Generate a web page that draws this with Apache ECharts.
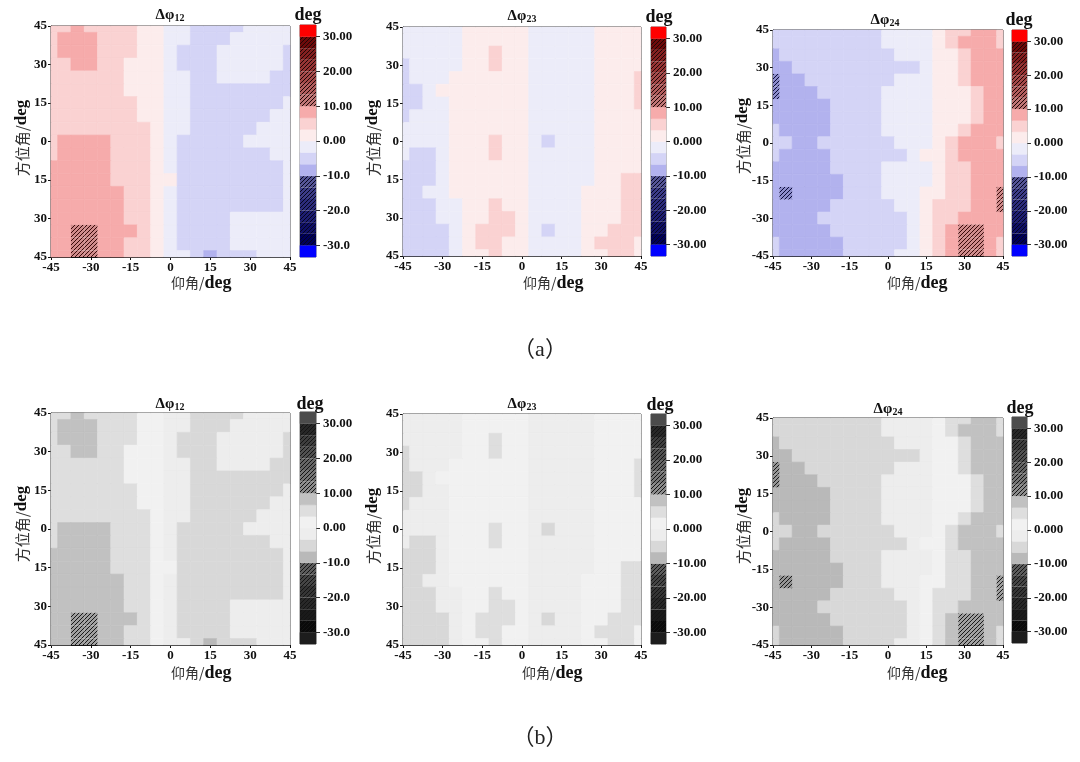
<!DOCTYPE html>
<html><head><meta charset="utf-8">
<script src="https://cdn.jsdelivr.net/npm/echarts@6/dist/echarts.min.js"></script>
<style>html,body{margin:0;padding:0;background:#fff}#c{width:1080px;height:762px}</style>
</head><body><div id="c"></div><script>
// ---- data ----
const xCenters = [-45,-40,-35,-30,-25,-20,-15,-10,-5,0,5,10,15,20,25,30,35,40,45];
const yCenters = [45,40,35,30,25,20,15,10,5,0,-5,-10,-15,-20,-25,-30,-35,-40,-45];
const xTickLabels = ['-45','-30','-15','0','15','30','45'];
const yTickValues = [-45,-30,-15,0,15,30,45];
const yTickLabelsUnsigned = ['45','30','15','0','15','30','45'];
const yTickLabelsSigned = ['-45','-30','-15','0','15','30','45'];
const cbTickValues = [-30,-20,-10,0,10,20,30];
const cbLabelsShort = ['-30.0','-20.0','-10.0','0.00','10.00','20.00','30.00'];
const cbLabelsLong = ['-30.00','-20.00','-10.00','0.000','10.00','20.00','30.00'];
const cbBounds = [-33.33,-30,-26.67,-23.33,-20,-16.67,-13.33,-10,-6.67,-3.33,0,3.33,6.67,10,13.33,16.67,20,23.33,26.67,30,33.33];

// rows from top (45) to bottom (-45), columns -45..45
const dphi12 = [
[5,5,8,5,5,5,5,2,2,-2,-2,-5,-5,-5,-5,-2,-2,-2,-2],
[5,8,8,8,5,5,5,2,2,-2,-2,-5,-5,-5,-2,-2,-2,-2,-2],
[5,8,8,8,5,5,5,2,2,-2,-5,-5,-5,-2,-2,-2,-2,-2,-5],
[5,5,8,8,5,5,2,2,2,-2,-5,-5,-5,-2,-2,-2,-2,-2,-5],
[5,5,5,5,5,5,2,2,2,-2,-2,-5,-5,-2,-2,-2,-2,-5,-5],
[5,5,5,5,5,5,2,2,2,-2,-2,-5,-5,-5,-5,-5,-5,-5,-5],
[5,5,5,5,5,5,5,2,2,-2,-2,-5,-5,-5,-5,-5,-5,-5,-2],
[5,5,5,5,5,5,5,2,2,-2,-2,-5,-5,-5,-5,-5,-5,-2,-2],
[5,5,5,5,5,5,5,5,2,-2,-2,-5,-5,-5,-5,-5,-2,-2,-2],
[5,8,8,8,8,5,5,5,2,-2,-5,-5,-5,-5,-5,-2,-2,-2,-2],
[5,8,8,8,8,5,5,5,2,-2,-5,-5,-5,-5,-5,-5,-5,-2,-2],
[8,8,8,8,8,5,5,5,2,-2,-5,-5,-5,-5,-5,-5,-5,-5,-2],
[8,8,8,8,8,5,5,5,2,2,-5,-5,-5,-5,-5,-5,-5,-5,-2],
[8,8,8,8,8,8,5,5,2,-2,-5,-5,-5,-5,-5,-5,-5,-5,-2],
[8,8,8,8,8,8,5,5,2,-2,-5,-5,-5,-5,-5,-5,-5,-5,-2],
[8,8,8,8,8,8,5,5,2,-2,-5,-5,-5,-5,-2,-2,-2,-2,-2],
[8,8,15,15,8,8,8,5,2,-2,-5,-5,-5,-5,-2,-2,-2,-2,-2],
[8,8,15,15,8,8,5,5,2,-2,-5,-5,-5,-5,-2,-2,-2,-2,-2],
[8,8,15,15,8,8,5,5,2,-2,-2,-5,-8,-5,-5,-5,-2,-2,-2]
];
const dphi23 = [
[-2,-2,-2,-2,-2,2,2,2,2,2,-2,-2,-2,-2,-2,2,2,2,2],
[-2,-2,-2,-2,-2,2,2,2,2,2,-2,-2,-2,-2,-2,2,2,2,2],
[-2,-2,-2,-2,-2,2,2,5,2,2,-2,-2,-2,-2,-2,2,2,2,2],
[-5,-2,-2,-2,-2,2,2,5,2,2,-2,-2,-2,-2,-2,2,2,2,2],
[-5,-2,-2,-2,2,2,2,2,2,2,-2,-2,-2,-2,-2,2,2,2,5],
[-5,-5,-2,2,2,2,2,2,2,2,-2,-2,-2,-2,-2,2,2,2,5],
[-5,-5,-2,-2,2,2,2,2,2,2,-2,-2,-2,-2,-2,2,2,2,5],
[-5,-2,-2,-2,2,2,2,2,2,2,-2,-2,-2,-2,-2,2,2,2,2],
[-2,-2,-2,-2,2,2,2,2,2,2,-2,-2,-2,-2,-2,2,2,2,2],
[-2,-2,-2,-2,2,2,2,5,2,2,-2,-5,-2,-2,-2,2,2,2,2],
[-2,-5,-5,-2,2,2,2,5,2,2,-2,-2,-2,-2,-2,2,2,2,2],
[-5,-5,-5,-2,2,2,2,2,2,2,-2,-2,-2,-2,-2,2,2,2,2],
[-5,-5,-5,-2,2,2,2,2,2,2,-2,-2,-2,-2,-2,2,2,5,5],
[-5,-5,-2,-2,2,2,2,2,2,2,-2,-2,-2,-2,2,2,2,5,5],
[-5,-5,-5,-2,-2,2,2,5,2,2,-2,-2,-2,-2,2,2,2,5,5],
[-5,-5,-5,-2,-2,2,2,5,5,2,-2,-2,-2,-2,2,2,2,5,5],
[-5,-5,-5,-5,-2,2,5,5,5,2,-2,-5,-2,-2,2,2,5,5,5],
[-5,-5,-5,-5,-2,2,5,5,2,2,-2,-2,-2,-2,2,5,5,5,2],
[-5,-5,-5,-5,-2,2,2,5,2,2,-2,-2,-2,-2,2,2,5,5,2]
];
const dphi24 = [
[-5,-5,-5,-5,-5,-5,-5,-5,-5,-2,-2,-2,-2,2,5,5,8,8,5],
[-5,-5,-5,-5,-5,-5,-5,-5,-5,-2,-2,-2,-2,2,5,8,8,8,5],
[-8,-5,-5,-5,-5,-5,-5,-5,-5,-5,-2,-2,-2,2,2,5,8,8,8],
[-8,-8,-5,-5,-5,-5,-5,-5,-5,-5,-5,-5,-2,2,2,5,8,8,8],
[-15,-8,-8,-5,-5,-5,-5,-5,-5,-5,-2,-2,-2,2,2,5,8,8,8],
[-15,-8,-8,-8,-5,-5,-5,-5,-5,-2,-2,-2,-2,2,2,2,5,8,8],
[-8,-8,-8,-8,-8,-5,-5,-5,-5,-2,-2,-2,-2,2,2,2,5,8,8],
[-8,-8,-8,-8,-8,-5,-5,-5,-5,-2,-2,-2,-2,2,2,2,5,8,8],
[-5,-8,-8,-8,-8,-5,-5,-5,-5,-2,-2,-2,-2,2,2,5,8,8,8],
[-5,-5,-8,-8,-5,-5,-5,-5,-5,-5,-2,-2,-2,2,5,8,8,8,5],
[-5,-8,-8,-8,-8,-5,-5,-5,-5,-5,-5,-2,2,2,5,8,8,8,8],
[-8,-8,-8,-8,-8,-5,-5,-5,-5,-2,-2,-2,-2,2,5,5,8,8,8],
[-8,-8,-8,-8,-8,-8,-5,-5,-5,-2,-2,-2,-2,2,5,5,8,8,8],
[-8,-15,-8,-8,-8,-8,-5,-5,-5,-2,-2,-2,2,2,5,5,8,8,15],
[-8,-8,-8,-8,-8,-5,-5,-5,-5,-5,-2,-2,2,5,5,5,8,8,15],
[-8,-8,-8,-8,-5,-5,-5,-5,-5,-5,-5,-2,2,5,5,8,8,8,8],
[-8,-8,-8,-8,-8,-5,-5,-5,-5,-5,-5,-2,2,5,8,15,15,8,8],
[-5,-8,-8,-8,-8,-8,-5,-5,-5,-5,-5,-2,2,5,8,15,15,8,5],
[-5,-8,-8,-8,-8,-8,-5,-5,-5,-5,-2,-2,2,5,8,15,15,8,5]
];

// ---- styles ----
const segStyles = [
 {c:'#0000ff'},{c:'#00005a',h:1},{c:'#101066',h:1},{c:'#1e1e72',h:1},{c:'#2c2c7c',h:1},{c:'#3c3c88',h:1},{c:'#555596',h:1},
 {c:'#b2b2ee'},{c:'#d4d4f6'},{c:'#ececf9'},{c:'#fcecec'},{c:'#fad2d2'},{c:'#f6abab'},
 {c:'#c07676',h:1},{c:'#b25e5e',h:1},{c:'#a54a4a',h:1},{c:'#963434',h:1},{c:'#842020',h:1},{c:'#6e0a0a',h:1},{c:'#ff0000'}
];
const cellHatchRed = '#d08c8c', cellHatchBlue = '#8e8ecc';

function lum(hex){
  const n=parseInt(hex.slice(1),16);const r=(n>>16)&255,g=(n>>8)&255,b=n&255;
  const l=Math.round(0.299*r+0.587*g+0.114*b);const s=l.toString(16).padStart(2,'0');return '#'+s+s+s;
}
const patCache={};
function hatch(bg,line){
  const k=bg+line; if(patCache[k]) return patCache[k];
  const s=4, cv=document.createElement('canvas'); cv.width=s; cv.height=s;
  const ctx=cv.getContext('2d'); ctx.fillStyle=bg; ctx.fillRect(0,0,s,s);
  ctx.strokeStyle=line; ctx.lineWidth=1; ctx.beginPath();
  ctx.moveTo(-1,s+1);ctx.lineTo(s+1,-1);
  ctx.moveTo(-1-s,s+1);ctx.lineTo(1,-1);
  ctx.moveTo(s-1,2*s+1);ctx.lineTo(2*s+1,s-1);
  ctx.stroke();
  return (patCache[k]={image:cv,repeat:'repeat'});
}
function segIndex(v){
  for(let i=0;i<cbBounds.length-1;i++){ if(v>=cbBounds[i]&&v<cbBounds[i+1]) return i; }
  return v<0?0:cbBounds.length-2;
}
function cellStyle(v,gray){
  const seg=segStyles[segIndex(v)];
  const c=seg.h?(v>0?cellHatchRed:cellHatchBlue):seg.c;
  if(gray){ const g=lum(c); return seg.h?{fill:hatch(g,'#1a1a1a'),lineWidth:0}:{fill:g,stroke:g,lineWidth:0.6}; }
  return seg.h?{fill:hatch(c, v>0?'#3a0a0a':'#0c0c3a'),lineWidth:0}:{fill:c,stroke:c,lineWidth:0.6};
}
function cbStyle(i,gray){
  const seg=segStyles[i];
  if(gray){ const g=lum(seg.c); return seg.h?{fill:hatch(g,'#141414'),lineWidth:0}:{fill:g,stroke:g,lineWidth:0.5}; }
  return seg.h?{fill:hatch(seg.c, i<10?'#05051e':'#1e0505'),lineWidth:0}:{fill:seg.c,stroke:seg.c,lineWidth:0.5};
}

const panels = [
 {d:dphi12, sub:'12', gray:false, g:[51,26,239,231], cb:[300,25,16,232], yl:yTickLabelsUnsigned, cbl:cbLabelsShort, t:[170,15], deg:[308,15], yn:[22,138], xn:[171,283]},
 {d:dphi23, sub:'23', gray:false, g:[403,27,238,229], cb:[651,27,15,229], yl:yTickLabelsUnsigned, cbl:cbLabelsLong, t:[522,16], deg:[659,17], yn:[373,138], xn:[523,283]},
 {d:dphi24, sub:'24', gray:false, g:[773,30,230,226], cb:[1012,30,15,226], yl:yTickLabelsSigned, cbl:cbLabelsLong, t:[885,20], deg:[1019,20], yn:[743,136], xn:[887,283]},
 {d:dphi12, sub:'12', gray:true, g:[51,413,239,232], cb:[300,412,16,232], yl:yTickLabelsUnsigned, cbl:cbLabelsShort, t:[170,404], deg:[310,404], yn:[22,524], xn:[171,673]},
 {d:dphi23, sub:'23', gray:true, g:[403,414,238,231], cb:[651,414,15,230], yl:yTickLabelsUnsigned, cbl:cbLabelsLong, t:[522,404], deg:[660,405], yn:[373,526], xn:[522,673]},
 {d:dphi24, sub:'24', gray:true, g:[773,418,230,227], cb:[1012,417,15,226], yl:yTickLabelsSigned, cbl:cbLabelsLong, t:[888,409], deg:[1020,408], yn:[743,526], xn:[887,673]}
];

const serif='Liberation Serif';
const tickFont={fontFamily:serif,fontWeight:'bold',fontSize:13,color:'#111'};
const cjk='Noto Sans CJK SC';

const grid=[],xAxis=[],yAxis=[],series=[],graphic=[];
panels.forEach((p,k)=>{
  const gi=2*k, ci=2*k+1;
  grid.push({left:p.g[0],top:p.g[1],width:p.g[2],height:p.g[3],show:true,borderColor:'#111',borderWidth:1,containLabel:false});
  grid.push({left:p.cb[0],top:p.cb[1],width:p.cb[2],height:p.cb[3],show:true,borderColor:'#222',borderWidth:0.6});
  xAxis.push({gridIndex:gi,type:'value',min:-45,max:45,interval:15,
    axisLine:{show:true,onZero:false,lineStyle:{color:'#111'}},axisTick:{show:true,length:3,lineStyle:{color:'#111'}},
    splitLine:{show:false},
    axisLabel:{...tickFont,margin:4,formatter:(v)=>xTickLabels[yTickValues.indexOf(v)]}});
  yAxis.push({gridIndex:gi,type:'value',min:-45,max:45,interval:15,
    axisLine:{show:true,onZero:false,lineStyle:{color:'#111'}},axisTick:{show:true,length:3,lineStyle:{color:'#111'}},
    splitLine:{show:false},
    axisLabel:{...tickFont,margin:4,formatter:(v)=>p.yl[yTickValues.indexOf(v)]}});
  xAxis.push({gridIndex:ci,type:'value',min:0,max:1,show:false,axisLine:{onZero:false}});
  yAxis.push({gridIndex:ci,type:'value',min:cbBounds[0],max:cbBounds[cbBounds.length-1],position:'right',
    axisLine:{show:false,onZero:false},splitLine:{show:false},
    axisTick:{show:true,length:4,customValues:cbTickValues,lineStyle:{color:'#333'}},
    axisLabel:{...tickFont,margin:7,customValues:cbTickValues,formatter:(v)=>p.cbl[cbTickValues.indexOf(Math.round(v))]}});
  const cells=[];
  p.d.forEach((row,r)=>row.forEach((v,c)=>cells.push([xCenters[c],yCenters[r],v])));
  series.push({type:'custom',xAxisIndex:gi,yAxisIndex:gi,data:cells,encode:{x:0,y:1},silent:true,
    renderItem:(params,api)=>{
      const x=api.value(0),y=api.value(1),v=api.value(2);
      const p0=api.coord([x-2.5,y+2.5]),p1=api.coord([x+2.5,y-2.5]);
      const cs=params.coordSys;
      const shape=echarts.graphic.clipRectByRect({x:p0[0],y:p0[1],width:p1[0]-p0[0],height:p1[1]-p0[1]},{x:cs.x,y:cs.y,width:cs.width,height:cs.height});
      if(!shape) return null;
      return {type:'rect',shape:shape,style:cellStyle(v,p.gray),z2:Math.abs(v)>10?2:1};
    }});
  const segs=[];
  for(let i=0;i<cbBounds.length-1;i++) segs.push([0,cbBounds[i],cbBounds[i+1],i]);
  series.push({type:'custom',xAxisIndex:ci,yAxisIndex:ci,data:segs,encode:{x:0,y:[1,2]},silent:true,
    renderItem:(params,api)=>{
      const a=api.coord([0,api.value(2)]),b=api.coord([1,api.value(1)]);
      return {type:'rect',shape:{x:a[0],y:a[1],width:b[0]-a[0],height:b[1]-a[1]},style:cbStyle(api.value(3),p.gray)};
    }});
  graphic.push({type:'text',x:p.t[0],y:p.t[1],style:{text:'{a|Δφ}{s|'+p.sub+'}',
    rich:{a:{fontFamily:serif,fontWeight:'bold',fontSize:15,lineHeight:16,verticalAlign:'bottom',fill:'#111'},
          s:{fontFamily:serif,fontWeight:'bold',fontSize:10,lineHeight:10,padding:[6,0,0,0],verticalAlign:'bottom',fill:'#111'}},
    align:'center',verticalAlign:'middle'}});
  graphic.push({type:'text',x:p.deg[0],y:p.deg[1],style:{text:'deg',fontFamily:serif,fontWeight:'bold',fontSize:18,fill:'#111',align:'center',verticalAlign:'middle'}});
  graphic.push({type:'text',x:p.xn[0],y:p.xn[1],style:{text:'{n|仰角/}{d|deg}',
    rich:{n:{fontFamily:cjk,fontSize:14,fill:'#333'},d:{fontFamily:serif,fontWeight:'bold',fontSize:18,fill:'#111'}},
    align:'left',verticalAlign:'middle'}});
  graphic.push({type:'text',x:p.yn[0],y:p.yn[1],rotation:Math.PI/2,style:{text:'{n|方位角/}{d|deg}',
    rich:{n:{fontFamily:cjk,fontSize:15,fill:'#333'},d:{fontFamily:serif,fontWeight:'bold',fontSize:17,fill:'#111'}},
    align:'center',verticalAlign:'middle'}});
});
graphic.push({type:'text',x:540,y:350,style:{text:'（a）',fontFamily:serif+',Noto Sans CJK SC',fontSize:22,fill:'#222',align:'center',verticalAlign:'middle'}});
graphic.push({type:'text',x:540,y:738,style:{text:'（b）',fontFamily:serif+',Noto Sans CJK SC',fontSize:22,fill:'#222',align:'center',verticalAlign:'middle'}});

const chart=echarts.init(document.getElementById('c'),null,{renderer:'canvas'});
chart.setOption({animation:false,backgroundColor:'#fff',grid,xAxis,yAxis,series,graphic});
</script></body></html>
